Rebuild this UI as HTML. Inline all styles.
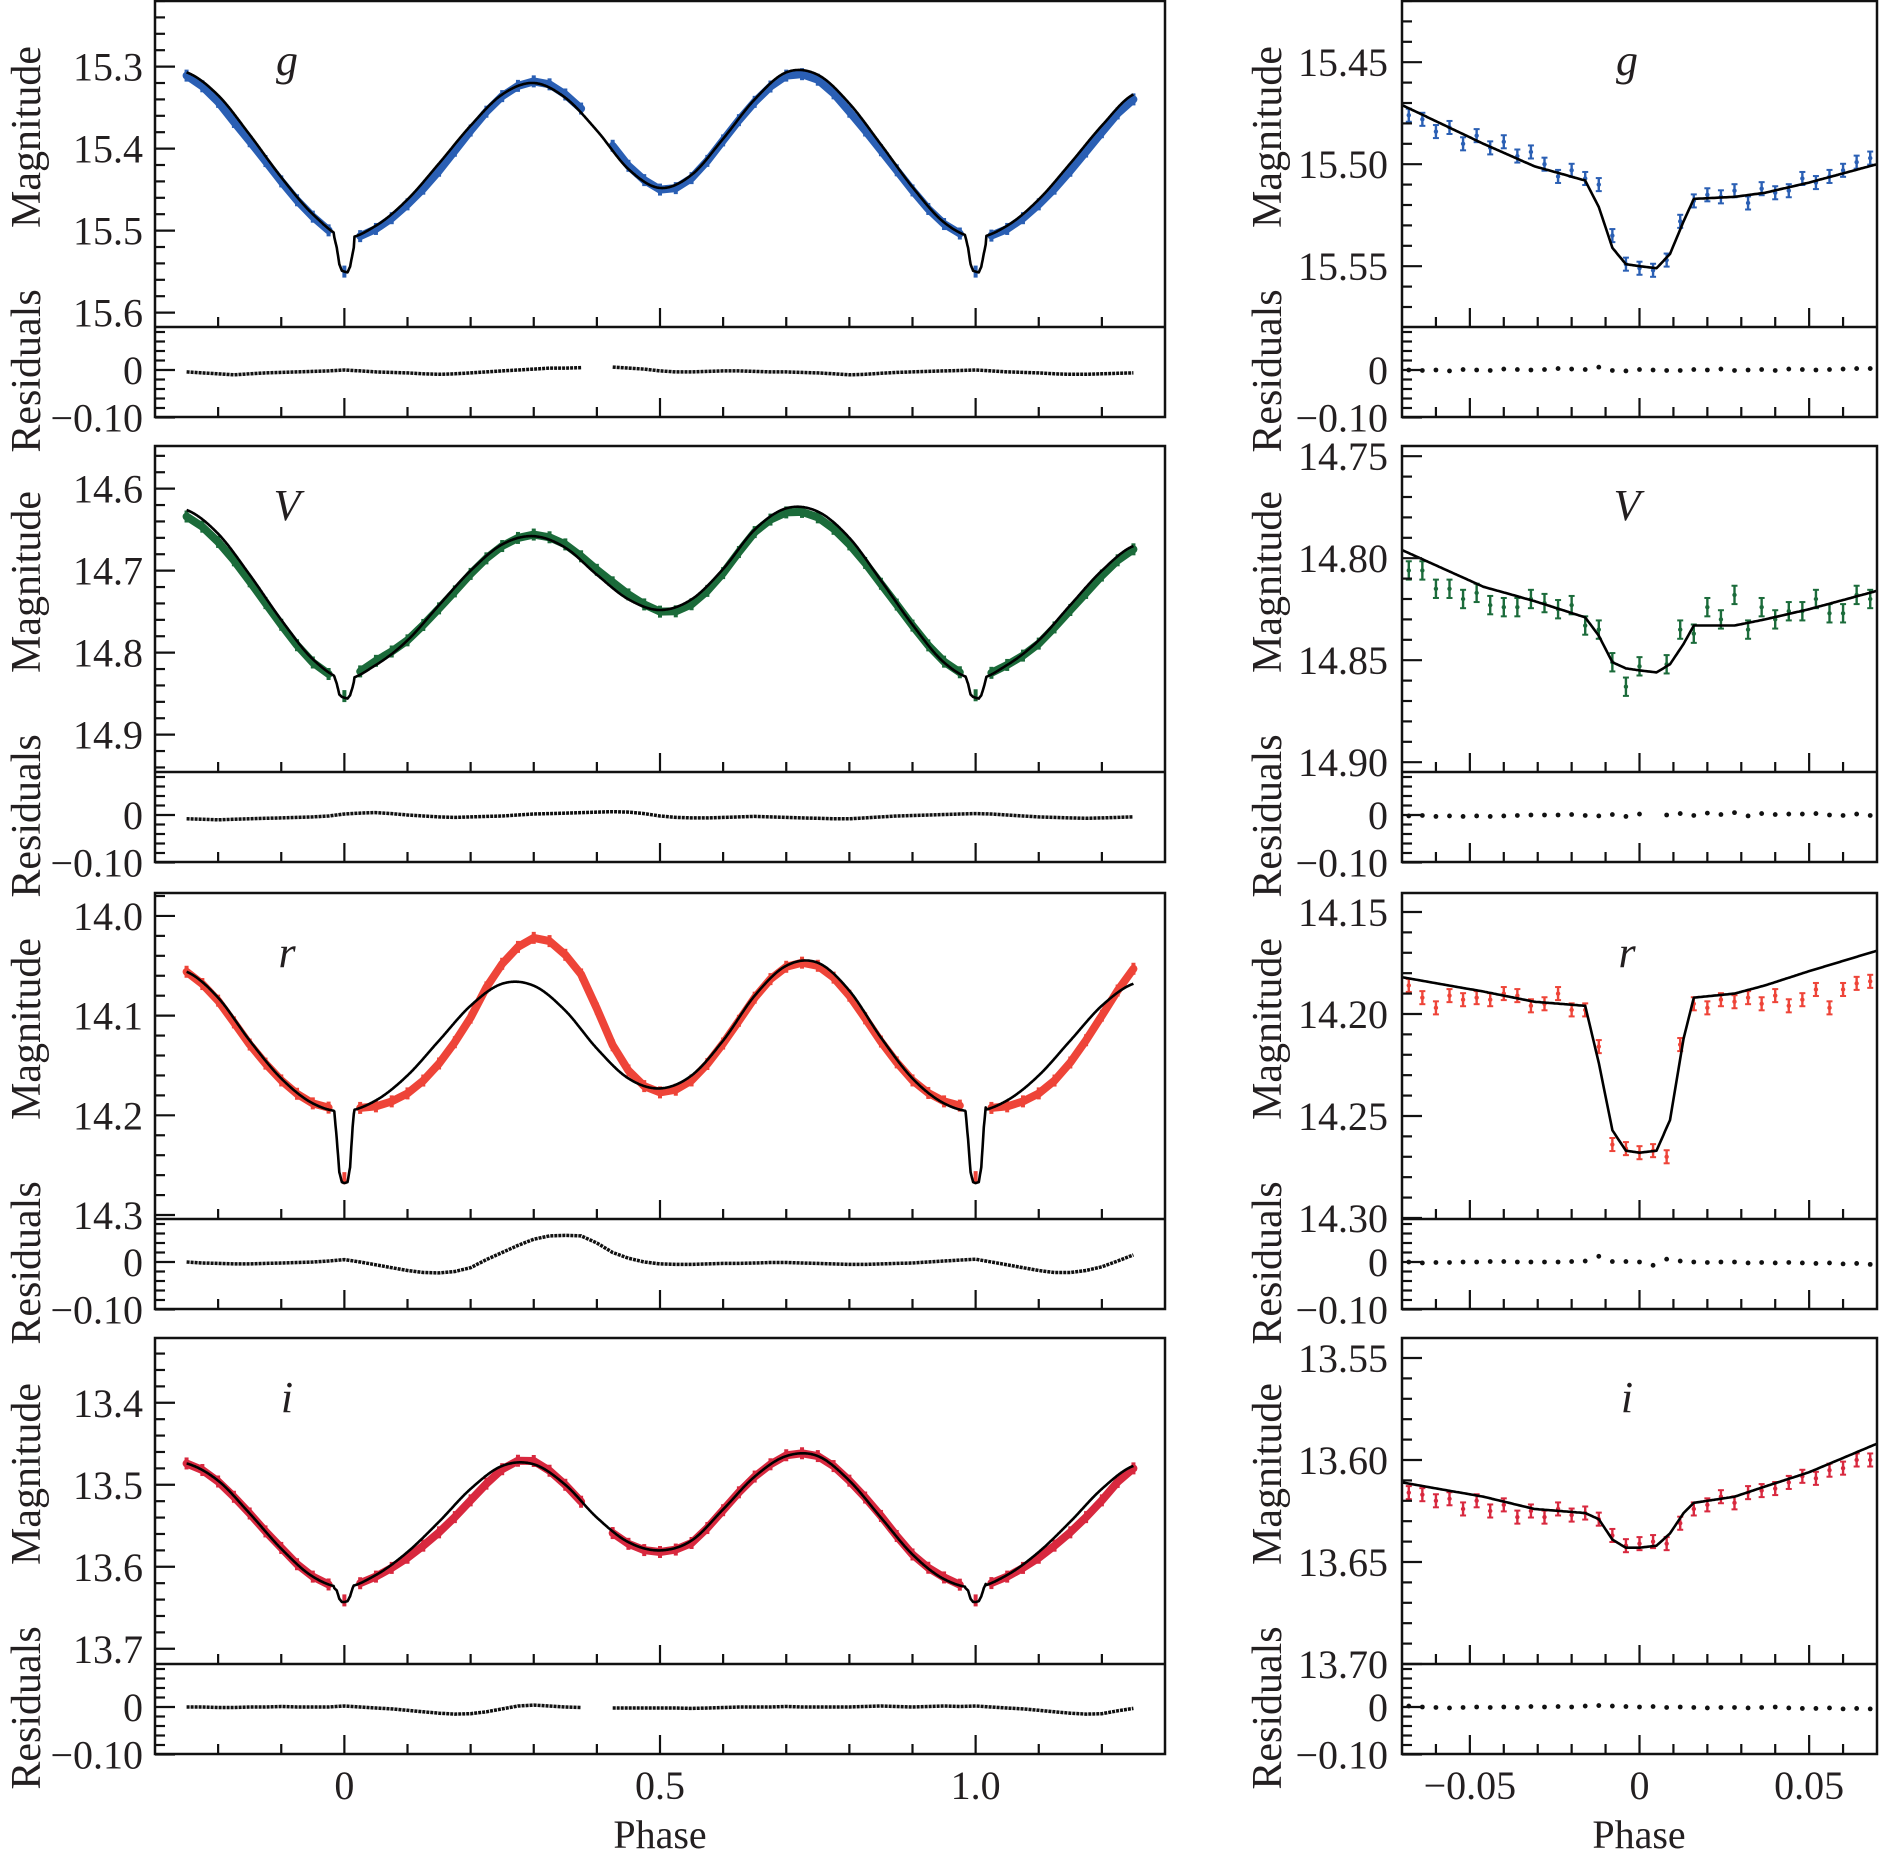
<!DOCTYPE html>
<html><head><meta charset="utf-8"><title>Light curves</title>
<style>
html,body{margin:0;padding:0;background:#fff;}
svg{display:block;font-family:"Liberation Serif","DejaVu Serif",serif;}
</style></head>
<body>
<svg id="chart" width="1879" height="1859" viewBox="0 0 1879 1859" xmlns="http://www.w3.org/2000/svg">
<rect x="0" y="0" width="1879" height="1859" fill="#fff"/>
</svg>
<script>
// ---------------- DATA ----------------
const bands = ['g','V','r','i'];
const bandColors = ['#2a5fb4','#1b6b3a','#ee4438','#d8283e'];
const baseKnots = [-0.25,-0.20,-0.15,-0.10,-0.05,0.00,0.05,0.10,0.15,0.20,0.25,0.30,0.35,0.40,0.45,0.50,0.55,0.60,0.65,0.70,0.75,0.80,0.85,0.90,0.95,1.00,1.05,1.10,1.15,1.20,1.25];
const gModel = [15.307,15.335,15.383,15.435,15.480,15.508,15.494,15.462,15.418,15.372,15.334,15.320,15.338,15.378,15.425,15.448,15.432,15.388,15.340,15.307,15.310,15.345,15.395,15.447,15.490,15.508,15.494,15.462,15.418,15.372,15.334];
const vModel = [14.626,14.655,14.705,14.760,14.808,14.832,14.815,14.785,14.742,14.700,14.668,14.658,14.672,14.705,14.735,14.748,14.735,14.698,14.650,14.624,14.628,14.660,14.712,14.766,14.812,14.832,14.815,14.785,14.742,14.700,14.670];
const rModel = [14.056,14.082,14.125,14.163,14.188,14.196,14.185,14.160,14.125,14.090,14.068,14.070,14.095,14.133,14.163,14.173,14.160,14.125,14.080,14.050,14.047,14.075,14.122,14.163,14.188,14.196,14.185,14.160,14.125,14.090,14.068];
const iModel = [13.474,13.495,13.535,13.578,13.612,13.625,13.610,13.582,13.545,13.505,13.477,13.475,13.500,13.540,13.570,13.580,13.568,13.530,13.490,13.465,13.465,13.495,13.540,13.585,13.615,13.625,13.610,13.582,13.545,13.505,13.477];
const eclKnots = [-0.070,-0.046,-0.031,-0.016,-0.012,-0.008,-0.004,0.000,0.005,0.009,0.013,0.016,0.028,0.037,0.050,0.070];
const gEcl = [15.471,15.490,15.501,15.508,15.521,15.541,15.549,15.550,15.551,15.544,15.528,15.517,15.516,15.514,15.509,15.500];
const vEcl = [14.796,14.814,14.821,14.829,14.838,14.851,14.854,14.855,14.856,14.852,14.842,14.833,14.833,14.830,14.825,14.816];
const rEcl = [14.182,14.189,14.194,14.196,14.224,14.257,14.267,14.268,14.267,14.252,14.212,14.192,14.190,14.186,14.179,14.169];
const iEcl = [13.611,13.618,13.624,13.626,13.629,13.639,13.643,13.643,13.642,13.636,13.626,13.621,13.618,13.613,13.606,13.592];
const residPhases = [-0.25,-0.225,-0.2,-0.175,-0.15,-0.125,-0.1,-0.075,-0.05,-0.025,0,0.025,0.05,0.075,0.1,0.125,0.15,0.175,0.2,0.225,0.25,0.275,0.3,0.325,0.35,0.375,0.4,0.425,0.45,0.475,0.5,0.525,0.55,0.575,0.6,0.625,0.65,0.675,0.7,0.725,0.75,0.775,0.8,0.825,0.85,0.875,0.9,0.925,0.95,0.975,1.0,1.025,1.05,1.075,1.1,1.125,1.15,1.175,1.2,1.225,1.25];
const gResid = [-0.004,-0.006,-0.008,-0.01,-0.008,-0.006,-0.005,-0.004,-0.003,-0.002, 0.0,-0.002,-0.004,-0.005,-0.006,-0.008,-0.009,-0.008,-0.006,-0.004, -0.002,0.0,0.002,0.004,0.004,0.005,null,0.006,0.004,0.002, -0.002,-0.004,-0.004,-0.003,-0.002,-0.002,-0.003,-0.004,-0.004,-0.005, -0.006,-0.008,-0.01,-0.009,-0.007,-0.005,-0.004,-0.003,-0.002,-0.001, 0.0,-0.002,-0.004,-0.005,-0.006,-0.008,-0.009,-0.009,-0.008,-0.007,-0.006];
const vResid = [-0.008,-0.009,-0.01,-0.009,-0.008,-0.007,-0.006,-0.005,-0.004,-0.002, 0.002,0.004,0.005,0.003,0.0,-0.002,-0.004,-0.005,-0.004,-0.003, -0.002,0.0,0.002,0.003,0.004,0.005,0.006,0.007,0.006,0.003, -0.002,-0.005,-0.006,-0.006,-0.005,-0.004,-0.003,-0.004,-0.005,-0.006, -0.007,-0.008,-0.008,-0.006,-0.004,-0.002,-0.001,0.0,0.001,0.002, 0.003,0.002,0.0,-0.002,-0.004,-0.005,-0.006,-0.007,-0.006,-0.005,-0.004];
const rResid = [0.0,-0.002,-0.003,-0.004,-0.004,-0.003,-0.002,-0.001,0.0,0.002, 0.005,0.0,-0.006,-0.012,-0.018,-0.022,-0.023,-0.02,-0.012,0.005, 0.02,0.035,0.048,0.055,0.056,0.055,0.04,0.02,0.008,0.0, -0.004,-0.005,-0.005,-0.004,-0.003,-0.003,-0.002,-0.001,-0.001,-0.002, -0.003,-0.004,-0.005,-0.005,-0.004,-0.003,-0.002,0.0,0.002,0.004, 0.006,0.0,-0.006,-0.012,-0.018,-0.022,-0.022,-0.018,-0.01,0.002,0.015];
const iResid = [0.0,0.0,-0.001,-0.001,0.0,0.0,0.001,0.0,0.0,0.0, 0.002,0.0,-0.002,-0.004,-0.007,-0.01,-0.013,-0.015,-0.014,-0.01, -0.004,0.002,0.004,0.002,0.0,-0.001,null,-0.002,-0.002,-0.002, -0.002,-0.002,-0.003,-0.002,-0.001,0.0,0.0,0.0,0.001,0.0, 0.0,0.0,0.0,0.001,0.002,0.001,0.0,0.001,0.002,0.001, 0.002,0.0,-0.002,-0.004,-0.007,-0.01,-0.013,-0.015,-0.014,-0.008,-0.003];
const rightPhases = [-0.068,-0.064,-0.060,-0.056,-0.052,-0.048,-0.044,-0.040,-0.036,-0.032,-0.028,-0.024,-0.020,-0.016,-0.012,-0.008,-0.004,0.000,0.004,0.008,0.012,0.016,0.020,0.024,0.028,0.032,0.036,0.040,0.044,0.048,0.052,0.056,0.060,0.064,0.068];
const gObsR = [15.476,15.478,15.484,15.482,15.490,15.486,15.492,15.489,15.496,15.494,15.500,15.506,15.503,15.507,15.510,15.535,15.549,15.551,15.552,15.547,15.528,15.518,15.515,15.516,15.513,15.519,15.512,15.514,15.513,15.507,15.509,15.506,15.503,15.499,15.497];
const vObsR = [14.806,14.806,14.815,14.815,14.820,14.817,14.823,14.824,14.824,14.820,14.822,14.825,14.823,14.833,14.835,14.851,14.863,14.853,null,14.852,14.835,14.837,14.824,14.830,14.818,14.835,14.824,14.830,14.826,14.826,14.820,14.827,14.827,14.818,14.820];
const rObsR = [14.186,14.192,14.197,14.191,14.193,14.192,14.193,14.190,14.191,14.196,14.195,14.190,14.198,14.198,14.216,14.264,14.266,14.268,14.267,14.270,14.215,14.195,14.197,14.193,14.194,14.192,14.195,14.191,14.196,14.193,14.188,14.197,14.188,14.185,14.184];
const iObsR = [13.616,13.617,13.620,13.619,13.624,13.620,13.625,13.622,13.628,13.625,13.628,13.624,13.627,13.626,13.629,13.637,13.642,13.641,13.640,13.641,13.631,13.624,13.622,13.618,13.621,13.616,13.615,13.614,13.611,13.608,13.609,13.605,13.604,13.600,13.600];
const gResR = [0.0,-0.001,0.0,-0.002,0.001,0.0,-0.001,0.002,0.001,0.0,0.001,0.003,0.002,0.001,0.006,-0.001,-0.002,0.001,0.0,-0.001,-0.001,0.001,0.0,0.002,-0.001,0.0,0.001,-0.001,0.002,0.001,0.0,0.001,0.002,0.003,0.003];
const vResR = [-0.002,-0.001,-0.003,-0.002,-0.003,-0.002,-0.003,-0.002,-0.001,0.0,0.0,0.0,0.001,-0.001,-0.002,0.001,-0.003,0.002,null,0.0,0.003,-0.001,0.004,0.001,0.005,-0.002,0.003,0.001,0.002,0.002,0.003,0.0,-0.001,0.002,-0.001];
const rResR = [0.0,-0.002,-0.001,-0.001,0.0,0.0,0.001,0.001,0.0,0.0,0.0,0.0,0.001,0.002,0.012,0.001,0.001,0.0,-0.007,0.006,0.002,0.0,-0.001,0.0,0.0,-0.002,-0.001,-0.002,-0.001,-0.002,-0.003,-0.002,-0.004,-0.003,-0.005];
const iResR = [0.002,0.0,-0.001,-0.002,-0.001,0.0,-0.001,0.0,-0.001,0.001,0.0,0.001,0.0,0.002,0.003,0.002,0.001,0.0,0.001,-0.001,0.0,-0.001,-0.002,-0.001,-0.001,-0.002,-0.001,0.0,-0.002,-0.003,-0.003,-0.002,-0.004,-0.003,-0.004];
const leftTickLabels = [['15.3','15.4','15.5','15.6'],['14.6','14.7','14.8','14.9'],['14.0','14.1','14.2','14.3'],['13.4','13.5','13.6','13.7']];
const rightTickLabels = [['15.45','15.50','15.55'],['14.75','14.80','14.85','14.90'],['14.15','14.20','14.25','14.30'],['13.55','13.60','13.65','13.70']];
const leftXLabels = ['0','0.5','1.0'];
const rightXLabels = ['−0.05','0','0.05'];

// ---------------- LAYOUT ----------------
const models = [gModel,vModel,rModel,iModel];
const ecls = [gEcl,vEcl,rEcl,iEcl];
const resids = [gResid,vResid,rResid,iResid];
const obsR = [gObsR,vObsR,rObsR,iObsR];
const resR = [gResR,vResR,rResR,iResR];
const tops = [1,446,893,1338];
const MAGH = 326, TOTH = 416;
const LX0 = 155, LX1 = 1165, PL0 = -0.30, PL1 = 1.30;
const RX0 = 1402, RX1 = 1877, PR0 = -0.07, PR1 = 0.07;
const mtopL = [15.220,14.548,13.977,13.321], kL = [820,820,997,820];
const mtopR = [15.420,14.745,14.1407,13.5402], kR = 2040;
const xL = p => LX0 + (p - PL0) / (PL1 - PL0) * (LX1 - LX0);
const xR = p => RX0 + (p - PR0) / (PR1 - PR0) * (RX1 - RX0);
const yL = (b, m) => tops[b] + (m - mtopL[b]) * kL[b];
const yR = (b, m) => tops[b] + (m - mtopR[b]) * kR;
const yRes = (b, r) => tops[b] + 369 - r * 475;

const NS = 'http://www.w3.org/2000/svg';
const svg = document.getElementById('chart');
function mk(tag, attrs, parent) {
  const e = document.createElementNS(NS, tag);
  for (const k in attrs) e.setAttribute(k, attrs[k]);
  (parent || svg).appendChild(e);
  return e;
}
function lin(xs, ys, x) {
  if (x <= xs[0]) return ys[0];
  for (let j = 1; j < xs.length; j++) if (x <= xs[j]) { const t = (x - xs[j-1]) / (xs[j] - xs[j-1]); return ys[j-1] + t * (ys[j] - ys[j-1]); }
  return ys[ys.length - 1];
}
function cr(xs, ys, x) {
  const n = xs.length; let j = 0;
  while (j < n - 2 && x > xs[j+1]) j++;
  const t = (x - xs[j]) / (xs[j+1] - xs[j]);
  const p0 = ys[Math.max(j-1,0)], p1 = ys[j], p2 = ys[j+1], p3 = ys[Math.min(j+2,n-1)];
  return 0.5 * ((2*p1) + (-p0+p2)*t + (2*p0-5*p1+4*p2-p3)*t*t + (-p0+3*p1-3*p2+p3)*t*t*t);
}
function modelL(b, p) {
  const k = Math.round(p), d = p - k;
  if ((k === 0 || k === 1) && Math.abs(d) < 0.016) return lin(eclKnots, ecls[b], d);
  return cr(baseKnots, models[b], p);
}

const defs = mk('defs', {});
for (let b = 0; b < 4; b++) {
  const c1 = mk('clipPath', {id: 'cl' + b}, defs); mk('rect', {x: LX0, y: tops[b], width: LX1 - LX0, height: TOTH}, c1);
  const c2 = mk('clipPath', {id: 'cr' + b}, defs); mk('rect', {x: RX0, y: tops[b], width: RX1 - RX0, height: TOTH}, c2);
}

function text(str, x, y, size, anchor, parent, extra) {
  const t = mk('text', Object.assign({x: x, y: y, 'font-size': size, 'text-anchor': anchor, fill: '#231f20'}, extra || {}), parent);
  t.textContent = str;
  return t;
}

for (let b = 0; b < 4; b++) {
  const T = tops[b];
  const col = bandColors[b];
  const gl = mk('g', {});
  
  
  const plotL = mk('g', {'clip-path': 'url(#cl' + b + ')'}, gl);
  let seg = [], segs = [];
  for (let j = 0; j < residPhases.length; j++) {
    const p = residPhases[j], r = resids[b][j];
    const d = p - Math.round(p);
    if (r === null || Math.abs(d) < 0.02) { if (seg.length) segs.push(seg); seg = []; continue; }
    seg.push([xL(p), yL(b, modelL(b, p) - r)]);
  }
  if (seg.length) segs.push(seg);
  segs.forEach(s => {
    const pl = mk('polyline', {points: s.map(q => q[0].toFixed(1) + ',' + q[1].toFixed(1)).join(' '), fill: 'none', stroke: col, 'stroke-width': 8, 'stroke-linejoin': 'round', 'stroke-linecap': 'round'}, plotL);
    
    
  });
  for (let j = 0; j < residPhases.length; j++) {
    const p = residPhases[j], r = resids[b][j];
    if (r === null) continue;
    const y = yL(b, modelL(b, p) - r);
    const m = mk('rect', {x: xL(p) - 2, y: y - 6, width: 4, height: 12, fill: col}, plotL);
    
    
  }
  let pts = [];
  for (let p = -0.25; p <= 1.2501; p += 0.001) pts.push(xL(p).toFixed(1) + ',' + yL(b, modelL(b, p)).toFixed(1));
  const ml = mk('polyline', {points: pts.join(' '), fill: 'none', stroke: '#000', 'stroke-width': 2.6, 'stroke-linejoin': 'round'}, plotL);
  
  
  seg = []; segs = [];
  for (let j = 0; j < residPhases.length; j++) {
    const r = resids[b][j];
    if (r === null) { if (seg.length) segs.push(seg); seg = []; continue; }
    seg.push([xL(residPhases[j]), yRes(b, r)]);
  }
  if (seg.length) segs.push(seg);
  segs.forEach(s => {
    const rl = mk('polyline', {points: s.map(q => q[0].toFixed(1) + ',' + q[1].toFixed(1)).join(' '), fill: 'none', stroke: '#111', 'stroke-width': 3.5, 'stroke-dasharray': '3 1'}, plotL);
    
    
  });
  mk('rect', {x: LX0, y: T, width: LX1 - LX0, height: TOTH, fill: 'none', stroke: '#111', 'stroke-width': 2.5}, gl);
  mk('line', {x1: LX0, x2: LX1, y1: T + MAGH, y2: T + MAGH, stroke: '#111', 'stroke-width': 2.5}, gl);
  const mbot = mtopL[b] + MAGH / kL[b];
  for (let k = Math.ceil(mtopL[b] / 0.02 - 1e-6); k <= Math.floor(mbot / 0.02 + 1e-6); k++) {
    const y = yL(b, k * 0.02);
    const major = k % 5 === 0;
    mk('line', {x1: LX0, x2: LX0 + (major ? 20 : 10), y1: y, y2: y, stroke: '#111', 'stroke-width': 2.2}, gl);
  }
  leftTickLabels[b].forEach(s => {
    const t = text(s, 143, yL(b, parseFloat(s)) + 14, 40, 'end', gl);
    
    
  });
  for (let k = -5; k <= 4; k++) {
    const y = yRes(b, k * 0.02);
    const major = (k === 0 || k === -5);
    mk('line', {x1: LX0, x2: LX0 + (major ? 20 : 10), y1: y, y2: y, stroke: '#111', 'stroke-width': 2.2}, gl);
  }
  text('0', 143, yRes(b, 0) + 14, 40, 'end', gl);
  text('−0.10', 143, yRes(b, -0.1) + 14, 40, 'end', gl);
  for (let k = -2; k <= 12; k++) {
    const x = xL(k / 10);
    const major = (k === 0 || k === 5 || k === 10);
    const len = major ? 19 : 10;
    mk('line', {x1: x, x2: x, y1: T + MAGH, y2: T + MAGH - len, stroke: '#111', 'stroke-width': 2.2}, gl);
    mk('line', {x1: x, x2: x, y1: T + TOTH, y2: T + TOTH - len, stroke: '#111', 'stroke-width': 2.2}, gl);
  }
  const bl = text(bands[b], 287, T + 74, 44, 'middle', gl, {'font-style': 'italic'});
  
  
  const at1 = text('Magnitude', 40, T + 136, 42, 'middle', gl, {transform: 'rotate(-90 40 ' + (T + 136) + ')'});
  
  
  const at2 = text('Residuals', 40, T + 370, 42, 'middle', gl, {transform: 'rotate(-90 40 ' + (T + 370) + ')'});
  
  

  const gr = mk('g', {});
  
  
  const plotR = mk('g', {'clip-path': 'url(#cr' + b + ')'}, gr);
  const err = b === 1 ? 0.0045 : 0.0032;
  for (let j = 0; j < rightPhases.length; j++) {
    const m = obsR[b][j];
    if (m === null) continue;
    const x = xR(rightPhases[j]);
    const eb = mk('g', {}, plotR);
    
    
    const y1 = yR(b, m - err), y2 = yR(b, m + err);
    mk('line', {x1: x, x2: x, y1: y1, y2: y2, stroke: col, 'stroke-width': 2.4}, eb);
    mk('line', {x1: x - 3, x2: x + 3, y1: y1, y2: y1, stroke: col, 'stroke-width': 2}, eb);
    mk('line', {x1: x - 3, x2: x + 3, y1: y2, y2: y2, stroke: col, 'stroke-width': 2}, eb);
    mk('circle', {cx: x, cy: yR(b, m), r: 2.2, fill: col}, eb);
  }
  pts = [];
  for (let p = PR0; p <= PR1 + 1e-9; p += 0.0005) pts.push(xR(p).toFixed(1) + ',' + yR(b, lin(eclKnots, ecls[b], p)).toFixed(1));
  const mr = mk('polyline', {points: pts.join(' '), fill: 'none', stroke: '#000', 'stroke-width': 2.6, 'stroke-linejoin': 'round'}, plotR);
  
  
  for (let j = 0; j < rightPhases.length; j++) {
    const r = resR[b][j];
    if (r === null) continue;
    const d = mk('circle', {cx: xR(rightPhases[j]), cy: yRes(b, r), r: 2.4, fill: '#111'}, plotR);
    
    
  }
  mk('rect', {x: RX0, y: T, width: RX1 - RX0, height: TOTH, fill: 'none', stroke: '#111', 'stroke-width': 2.5}, gr);
  mk('line', {x1: RX0, x2: RX1, y1: T + MAGH, y2: T + MAGH, stroke: '#111', 'stroke-width': 2.5}, gr);
  const mbotR = mtopR[b] + MAGH / kR;
  for (let k = Math.ceil(mtopR[b] / 0.01 - 1e-6); k <= Math.floor(mbotR / 0.01 + 1e-6); k++) {
    const y = yR(b, k * 0.01);
    const major = k % 5 === 0;
    mk('line', {x1: RX0, x2: RX0 + (major ? 20 : 10), y1: y, y2: y, stroke: '#111', 'stroke-width': 2.2}, gr);
  }
  rightTickLabels[b].forEach(s => {
    const t = text(s, 1388, yR(b, parseFloat(s)) + 14, 40, 'end', gr);
    
    
  });
  for (let k = -5; k <= 4; k++) {
    const y = yRes(b, k * 0.02);
    const major = (k === 0 || k === -5);
    mk('line', {x1: RX0, x2: RX0 + (major ? 20 : 10), y1: y, y2: y, stroke: '#111', 'stroke-width': 2.2}, gr);
  }
  text('0', 1388, yRes(b, 0) + 14, 40, 'end', gr);
  text('−0.10', 1388, yRes(b, -0.1) + 14, 40, 'end', gr);
  for (let k = -6; k <= 6; k++) {
    const x = xR(k / 100);
    const major = (k % 5 === 0);
    const len = major ? 19 : 10;
    mk('line', {x1: x, x2: x, y1: T + MAGH, y2: T + MAGH - len, stroke: '#111', 'stroke-width': 2.2}, gr);
    mk('line', {x1: x, x2: x, y1: T + TOTH, y2: T + TOTH - len, stroke: '#111', 'stroke-width': 2.2}, gr);
  }
  const br = text(bands[b], 1627, T + 74, 44, 'middle', gr, {'font-style': 'italic'});
  
  
  const at3 = text('Magnitude', 1281, T + 136, 42, 'middle', gr, {transform: 'rotate(-90 1281 ' + (T + 136) + ')'});
  
  
  const at4 = text('Residuals', 1281, T + 370, 42, 'middle', gr, {transform: 'rotate(-90 1281 ' + (T + 370) + ')'});
  
  
}

const xv = [0, 0.5, 1.0];
leftXLabels.forEach((s, j) => {
  const t = text(s, xL(xv[j]), 1799, 40, 'middle');
  
  
});
const xvr = [-0.05, 0, 0.05];
rightXLabels.forEach((s, j) => {
  const t = text(s, xR(xvr[j]), 1799, 40, 'middle');
  
  
});
const xt1 = text('Phase', 660, 1848, 40, 'middle');


const xt2 = text('Phase', 1639, 1848, 40, 'middle');


</script>
</body></html>
